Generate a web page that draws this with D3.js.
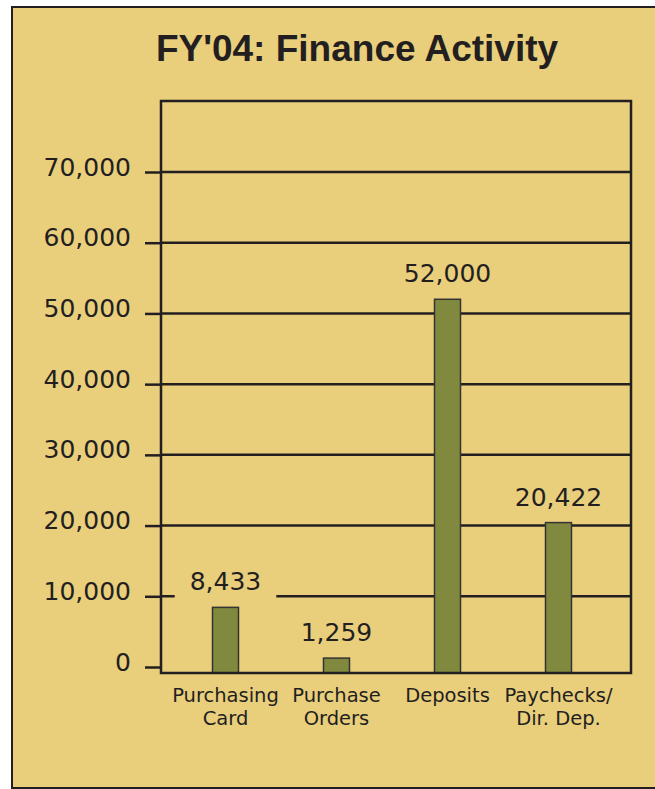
<!DOCTYPE html>
<html>
<head>
<meta charset="utf-8">
<script src="https://cdn.jsdelivr.net/npm/d3@7"></script>
<style>
  body { margin: 0; background: #fff; }
</style>
</head>
<body>
<script>
// data
var categories = [["Purchasing", "Card"], ["Purchase", "Orders"], ["Deposits"], ["Paychecks/", "Dir. Dep."]];
var values = [8433, 1259, 52000, 20422];
var valueLabels = ["8,433", "1,259", "52,000", "20,422"];
var tickValues = [0, 10000, 20000, 30000, 40000, 50000, 60000, 70000];

var W = 655, H = 789;
var bg = "#e9ce7c", ink = "#231f20", barFill = "#80893d";

var svg = d3.select("body").append("svg")
    .attr("width", W)
    .attr("height", H);

// outer panel
svg.append("rect")
    .attr("x", 12).attr("y", 7)
    .attr("width", W + 10).attr("height", 781)
    .attr("fill", bg)
    .attr("stroke", ink)
    .attr("stroke-width", 2);

svg.append("text")
    .attr("x", 357)
    .attr("y", 61)
    .attr("text-anchor", "middle")
    .style("font-family", "Liberation Sans, Arial, sans-serif")
    .style("font-weight", "bold")
    .style("font-size", "37px")
    .attr("fill", ink)
    .text("FY'04: Finance Activity");

// plot box
var box = {left: 161, right: 631, top: 101, bottom: 673};

var x = d3.scaleBand()
    .domain(d3.range(categories.length))
    .range([170, 614])
    .paddingInner(0.766)
    .paddingOuter(0.383);

var y = d3.scaleLinear()
    .domain([0, 70000])
    .range([667, 172]);

// gridlines (none at zero)
svg.append("g").selectAll("line")
    .data(tickValues.filter(function(d) { return d > 0; }))
    .join("line")
    .attr("x1", box.left).attr("x2", box.right)
    .attr("y1", function(d) { return y(d); })
    .attr("y2", function(d) { return y(d); })
    .attr("stroke", ink)
    .attr("stroke-width", 2.5);

// y axis ticks + labels
var yAxis = d3.axisLeft(y)
    .tickValues(tickValues)
    .tickSize(16)
    .tickPadding(14)
    .tickFormat(d3.format(","));

var ga = svg.append("g")
    .attr("transform", "translate(" + box.left + ",0)")
    .call(yAxis);
ga.select(".domain").remove();
ga.selectAll(".tick line").attr("stroke", ink).attr("stroke-width", 2.5);
ga.selectAll(".tick text")
    .attr("fill", ink)
    .attr("dy", "0.12em")
    .style("font-family", "DejaVu Sans, sans-serif")
    .style("font-size", "25px");

// value labels with a panel-coloured patch that breaks the gridline
var lab = svg.append("g").selectAll("g")
    .data(values)
    .join("g");

lab.append("rect").attr("class", "patch");
lab.append("text")
    .attr("x", function(d, i) { return x(i) + x.bandwidth() / 2; })
    .attr("y", function(d) { return y(d) - 17; })
    .attr("text-anchor", "middle")
    .attr("fill", ink)
    .style("font-family", "DejaVu Sans, sans-serif")
    .style("font-size", "25px")
    .text(function(d, i) { return valueLabels[i]; });

lab.each(function() {
    var g = d3.select(this);
    var b = g.select("text").node().getBBox();
    g.select("rect")
        .attr("x", b.x - 15).attr("y", b.y)
        .attr("width", b.width + 30).attr("height", b.height + 6)
        .attr("fill", bg);
});

// bars
svg.append("g").selectAll("rect")
    .data(values)
    .join("rect")
    .attr("x", function(d, i) { return x(i); })
    .attr("y", function(d) { return y(d); })
    .attr("width", x.bandwidth())
    .attr("height", function(d) { return box.bottom - y(d); })
    .attr("fill", barFill)
    .attr("stroke", "#333")
    .attr("stroke-width", 1.5);

svg.append("rect")
    .attr("x", box.left).attr("y", box.top)
    .attr("width", box.right - box.left)
    .attr("height", box.bottom - box.top)
    .attr("fill", "none")
    .attr("stroke", ink)
    .attr("stroke-width", 2.5);

// category labels
var cl = svg.append("g").selectAll("text")
    .data(categories)
    .join("text")
    .attr("x", function(d, i) { return x(i) + x.bandwidth() / 2; })
    .attr("y", 702)
    .attr("text-anchor", "middle")
    .attr("fill", ink)
    .style("font-family", "DejaVu Sans, sans-serif")
    .style("font-size", "19.5px");

cl.selectAll("tspan")
    .data(function(d) { return d; })
    .join("tspan")
    .attr("x", function() { return d3.select(this.parentNode).attr("x"); })
    .attr("dy", function(d, i) { return i ? 23 : 0; })
    .text(function(d) { return d; });
</script>
</body>
</html>
